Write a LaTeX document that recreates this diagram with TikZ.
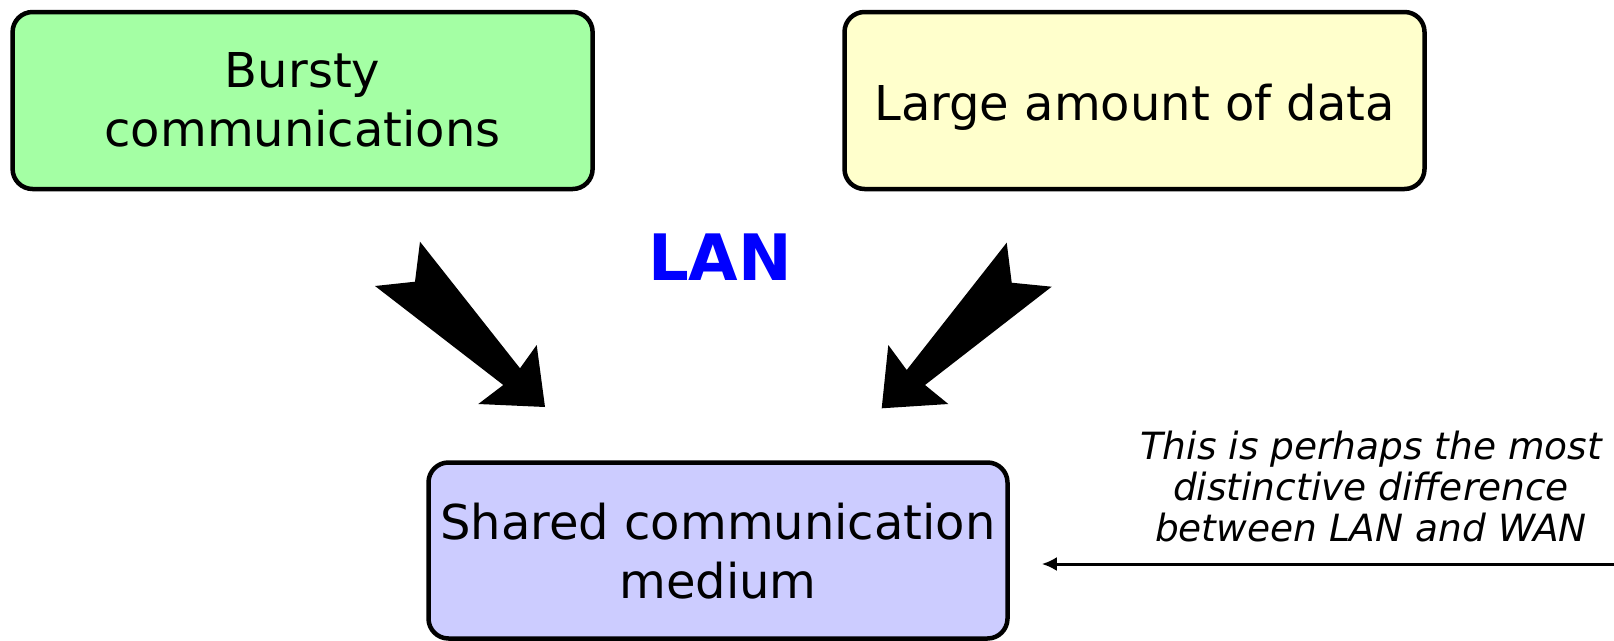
\documentclass[tikz,border=0pt]{standalone}
\usepackage{fontspec}
\setmainfont{DejaVu Sans}
\usetikzlibrary{arrows.meta}
\definecolor{boxgreen}{RGB}{164,255,164}
\definecolor{boxyellow}{RGB}{255,255,204}
\definecolor{boxviolet}{RGB}{204,204,255}
\definecolor{lanblue}{RGB}{0,0,255}
% centred lines, drawn a little below the optical centre of the box
\newcommand{\boxlines}[2][4pt]{%
  \raisebox{-#1}[\height][\depth]{\begin{tabular}{@{}c@{}}#2\end{tabular}}}
\tikzset{
  topicbox/.style={draw=black, line width=4.5pt, rounded corners=20pt,
    inner sep=0pt, font=\fontsize{48}{59}\selectfont},
  bigarrow/.style={fill=black, draw=none},
  note/.style={inner sep=0pt, anchor=base, font=\fontsize{37.5}{41}\selectfont\itshape},
  pointer/.style={line width=3pt, -{Latex[length=15pt,width=14pt]}}
}
\begin{document}
\begin{tikzpicture}[x=1pt,y=-1pt]
  \useasboundingbox (0,0) rectangle (1614,640);

  % the three topic boxes
  \node[topicbox, fill=boxgreen, minimum width=580pt, minimum height=177pt]
    (bursty) at (302.6,100.5) {\boxlines[5pt]{Bursty\\communications}};
  \node[topicbox, fill=boxyellow, minimum width=580pt, minimum height=177pt]
    (large) at (1134.5,100.5) {\boxlines[8pt]{Large amount of data}};
  \node[topicbox, fill=boxviolet, minimum width=579pt, minimum height=176pt]
    (shared) at (718,550.5) {\boxlines[7pt]{Shared communication\\medium}};

  % title between the upper boxes
  \node[font=\fontsize{64}{70}\selectfont\bfseries, text=lanblue]
    (lan) at (720,257) {LAN};

  % notched block arrows pointing down to the shared box
  \fill[bigarrow] (420,241.7) -- (415,281.7) -- (375,286) -- (503.3,385)
    -- (478.3,404) -- (545,407) -- (536.7,345) -- (520,368.3) -- cycle;
  \fill[bigarrow] (1006.7,242.7) -- (1011.7,282.7) -- (1051.7,286.7) -- (925,385)
    -- (948.3,404) -- (881.7,408.3) -- (888.3,345) -- (906.7,370) -- cycle;

  % side remark with its pointer
  \node[note] (remark) at (1371,459)
    {\begin{tabular}[t]{@{}c@{}}This is perhaps the most\\distinctive difference\\between LAN and WAN\end{tabular}};
  \coordinate (remarkend) at (1614,564);
  \draw[pointer, shorten >=32pt] (remarkend) -- (remarkend -| shared.east);
\end{tikzpicture}
\end{document}
